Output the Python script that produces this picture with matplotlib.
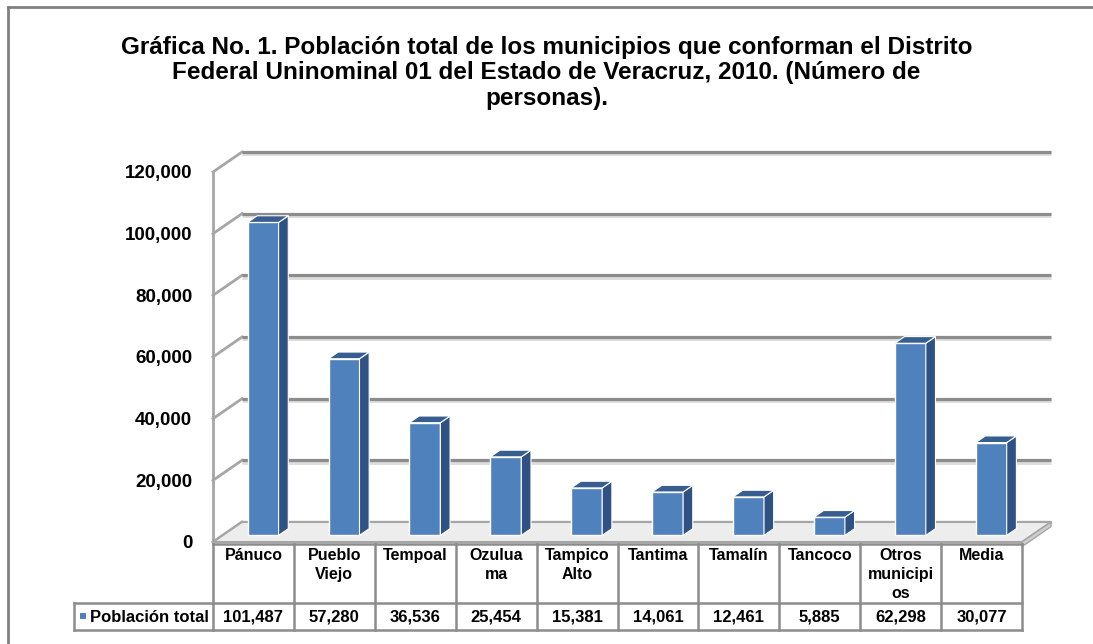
import matplotlib.pyplot as plt
import matplotlib.transforms as mtransforms
from matplotlib.patches import Polygon, Rectangle
from matplotlib.lines import Line2D
import numpy as np

# Datos de la gráfica
municipios = ['Pánuco', 'Pueblo\nViejo', 'Tempoal', 'Ozulua\nma', 'Tampico\nAlto',
              'Tantima', 'Tamalín', 'Tancoco', 'Otros\nmunicipi\nos', 'Media']
poblacion = [101487, 57280, 36536, 25454, 15381, 14061, 12461, 5885, 62298, 30077]
serie = 'Población total'
ticks_y = [0, 20000, 40000, 60000, 80000, 100000, 120000]
titulo = ('Gráfica No. 1. Población total de los municipios que conforman el Distrito\n'
          'Federal Uninominal 01 del Estado de Veracruz, 2010. (Número de\n'
          'personas).')

W, H = 1093, 644
plt.rcParams['font.family'] = ['Liberation Sans', 'DejaVu Sans']
fig = plt.figure(figsize=(W / 100, H / 100), dpi=100)

def fx(px):
    return px / W

def fy(py):
    return 1 - py / H

# ejes del plano frontal
ax = fig.add_axes([fx(213), fy(542), fx(1022) - fx(213), fy(172) - fy(542)])
n = len(municipios)
x = np.arange(n)
ax.set_xlim(-0.5, n - 0.5)
ax.set_ylim(0, 120000)
for s in ax.spines.values():
    s.set_visible(False)
ax.set_xticks([])
ax.set_yticks(ticks_y)
ax.set_yticklabels([f'{t:,}' for t in ticks_y], fontsize=13.5, fontweight='bold')
ax.tick_params(axis='y', length=0, pad=15)

# profundidad 3D
DX = 29 / 80.9
DY = 20 * 120000 / 370
D1, D2 = 1 / 3, 2 / 3
BW = 0.383

# paredes y rejilla
x0, x1 = -0.5, n - 0.5
for t in ticks_y:
    ax.plot([x0 + DX, x1 + DX], [t + DY - 400, t + DY - 400], color='#dcdcdc', lw=3.5,
            clip_on=False, zorder=1, solid_capstyle='butt')
    ax.plot([x0 + DX, x1 + DX], [t + DY, t + DY], color='#8c8c8c', lw=2.3,
            clip_on=False, zorder=1.1, solid_capstyle='butt')
    ax.plot([x0, x0 + DX], [t, t + DY], color='#a6a6a6', lw=2, clip_on=False, zorder=1)
ax.plot([x0, x0], [0, 120000], color='#a6a6a6', lw=2, clip_on=False, zorder=1)

# piso
piso = Polygon([(x0, 0), (x1, 0), (x1 + DX, DY), (x0 + DX, DY)], closed=True,
               facecolor='#ededed', edgecolor='#a6a6a6', lw=1.5, clip_on=False, zorder=2)
ax.add_patch(piso)
lado_piso = Polygon([(x1, 0), (x1 + DX, DY), (x1 + DX, DY - 1500), (x1, -1500)], closed=True,
                    facecolor='#cfcfcf', edgecolor='#a6a6a6', lw=1, clip_on=False, zorder=2)
ax.add_patch(lado_piso)

# barras
xf = x + D1 * DX
ax.bar(xf, poblacion, width=BW, bottom=D1 * DY, color='#4f81bd', edgecolor='white',
       linewidth=1, zorder=3, clip_on=False)
for xi, v in zip(xf, poblacion):
    xl, xr = xi - BW / 2, xi + BW / 2
    dd = (D2 - D1)
    lado = Polygon([(xr, D1 * DY), (xr + dd * DX, D2 * DY), (xr + dd * DX, v + D2 * DY),
                    (xr, v + D1 * DY)], closed=True, facecolor='#2f5183',
                   edgecolor='white', lw=0.8, clip_on=False, zorder=3)
    tapa = Polygon([(xl, v + D1 * DY), (xr, v + D1 * DY), (xr + dd * DX, v + D2 * DY),
                    (xl + dd * DX, v + D2 * DY)], closed=True, facecolor='#385e8f',
                   edgecolor='white', lw=0.8, clip_on=False, zorder=3)
    ax.add_patch(lado)
    ax.add_patch(tapa)

# tabla de datos
tr = mtransforms.blended_transform_factory(ax.transData, fig.transFigure)
gris = '#8c8c8c'
y_top, y_mid, y_bot = fy(544), fy(603), fy(630)
for i in range(n + 1):
    fig.add_artist(Line2D([i - 0.5, i - 0.5], [y_top, y_bot], transform=tr, color=gris, lw=1.8))
fig.add_artist(Line2D([x0, x1], [y_top, y_top], transform=tr, color=gris, lw=1.8))
for yy in (y_mid, y_bot):
    fig.add_artist(Line2D([fx(74), fx(213)], [yy, yy], transform=fig.transFigure, color=gris, lw=1.8))
    fig.add_artist(Line2D([x0, x1], [yy, yy], transform=tr, color=gris, lw=1.8))
fig.add_artist(Line2D([fx(74), fx(74)], [y_mid, y_bot], transform=fig.transFigure, color=gris, lw=1.8))

for i, (m, v) in enumerate(zip(municipios, poblacion)):
    fig.text(i, fy(548), m, transform=tr, ha='center', va='top', fontsize=11.5,
             fontweight='bold', linespacing=1.35)
    fig.text(i, fy(617), f'{v:,}', transform=tr, ha='center', va='center', fontsize=12,
             fontweight='bold')

fig.add_artist(Rectangle((fx(80), fy(619)), fx(6), fy(0) - fy(6), transform=fig.transFigure,
                         facecolor='#4f81bd', edgecolor='none'))
fig.text(fx(90), fy(617), serie, ha='left', va='center', fontsize=12, fontweight='bold')

# título
fig.text(0.5, fy(73), titulo, ha='center', va='center', fontsize=17.5, fontweight='bold',
         linespacing=1.13)

# marco exterior
fig.add_artist(Line2D([fx(8), fx(8)], [0, fy(7)], transform=fig.transFigure, color='#808080', lw=2))
fig.add_artist(Line2D([fx(8), 1], [fy(7), fy(7)], transform=fig.transFigure, color='#808080', lw=2))

fig.savefig('out.png', dpi=100)
